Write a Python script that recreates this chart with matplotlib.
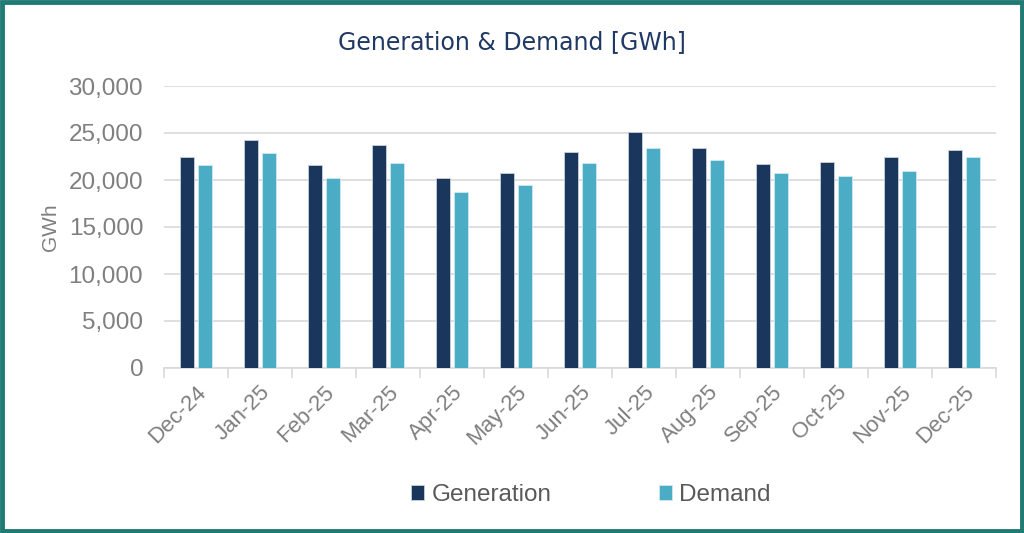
import numpy as np
import matplotlib
matplotlib.use('Agg')
import matplotlib.pyplot as plt
from matplotlib.patches import Rectangle
from matplotlib.ticker import FuncFormatter, MultipleLocator, FixedLocator

matplotlib.rcParams['font.family'] = ['Liberation Sans', 'DejaVu Sans']

months = ['Dec-24', 'Jan-25', 'Feb-25', 'Mar-25', 'Apr-25', 'May-25', 'Jun-25',
          'Jul-25', 'Aug-25', 'Sep-25', 'Oct-25', 'Nov-25', 'Dec-25']
generation = [22410, 24290, 21560, 23690, 20180, 20790, 23000,
              25100, 23390, 21750, 21930, 22460, 23140]
demand = [21630, 22900, 20240, 21790, 18710, 19430, 21790,
          23390, 22180, 20790, 20400, 20960, 22500]

GEN_C = '#1b365d'
DEM_C = '#4bacc6'
GREY = '#7f7f7f'

fig = plt.figure(figsize=(10.24, 5.33), dpi=100)
ax = fig.add_axes([164/1024, 1-368/533, 832/1024, 282/533])

x = np.arange(len(months))
w = 0.22
ax.bar(x - 0.145, generation, w, color=GEN_C, edgecolor='#c8d0dc', lw=0.6, label='Generation', zorder=3)
ax.bar(x + 0.145, demand, w, color=DEM_C, edgecolor='#cfe9f0', lw=0.6, label='Demand', zorder=3)

ax.set_xlim(-0.5, len(months) - 0.5)
ax.set_ylim(0, 30000)
ax.yaxis.set_major_locator(MultipleLocator(5000))
ax.yaxis.set_major_formatter(FuncFormatter(lambda v, p: f'{v:,.0f}'))
ax.grid(axis='y', color='#d9d9d9', lw=1.2, zorder=0)
for s in ['top', 'right', 'left']:
    ax.spines[s].set_visible(False)
ax.spines['bottom'].set_color('#d9d9d9')
ax.spines['bottom'].set_linewidth(1.2)

# 月份标签 45° 斜放，刻度线画在类别之间
ax.set_xticks(x)
ax.set_xticklabels(months, rotation=45, ha='right', rotation_mode='anchor',
                   fontsize=16, color=GREY)
ax.tick_params(axis='x', length=0, pad=10)
ax.xaxis.set_minor_locator(FixedLocator(np.arange(-0.5, len(months), 1.0)))
ax.tick_params(axis='x', which='minor', length=7, color='#d9d9d9', width=1.2)
ax.tick_params(axis='y', length=0, labelsize=17.5, labelcolor=GREY, pad=15)
ax.set_ylabel('GWh', fontsize=15, color=GREY, labelpad=6)

fig.text(0.5, 1-42/533, 'Generation & Demand [GWh]', ha='center', va='center',
         fontsize=17, color='#1f3864', family=['Liberation Sans Narrow', 'DejaVu Sans'])

fig.legend(loc='center', bbox_to_anchor=(591/1024, 1-495/533), ncol=2, frameon=False,
           fontsize=17.5, labelcolor='#595959', handlelength=0.55, handleheight=0.55,
           handletextpad=0.3, columnspacing=4.4)

fig.patches.append(Rectangle((0.002, 0.003), 0.996, 0.993, transform=fig.transFigure,
                             fill=False, edgecolor='#217a73', lw=3.5))

fig.savefig('out.png', dpi=100)
